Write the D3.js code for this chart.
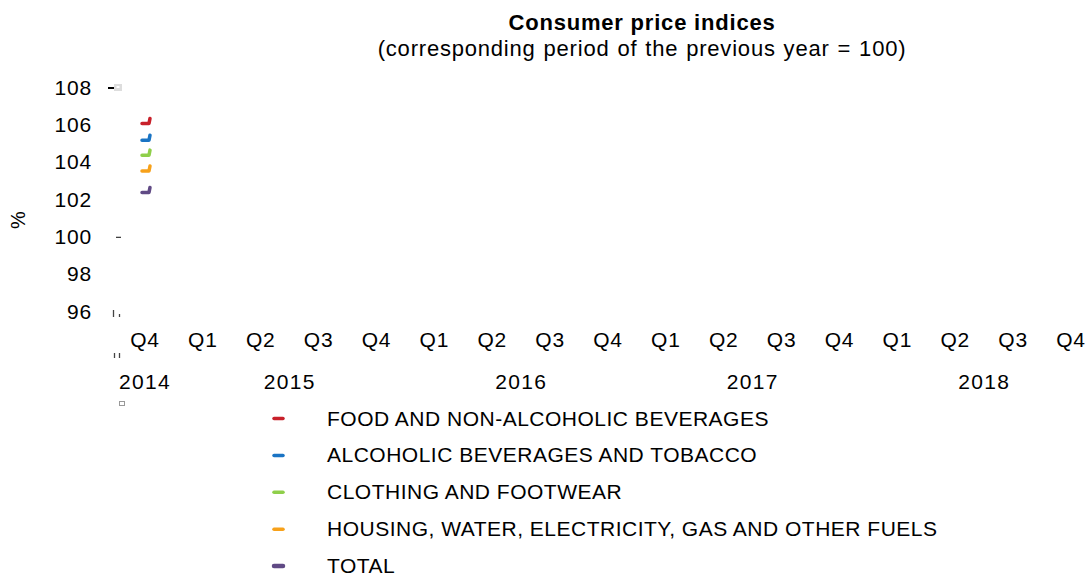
<!DOCTYPE html>
<html><head><meta charset="utf-8">
<script src="https://cdn.jsdelivr.net/npm/d3@7"></script>
<style>body{margin:0;background:#fff}svg{display:block;font-family:"Liberation Sans",Arial,sans-serif}</style>
</head><body><svg id="c" width="1089" height="576"></svg>
<script>
const quarters = ["Q4","Q1","Q2","Q3","Q4","Q1","Q2","Q3","Q4","Q1","Q2","Q3","Q4","Q1","Q2","Q3","Q4"];
const years = [{label:"2014", from:0, to:0},{label:"2015", from:1, to:4},{label:"2016", from:5, to:8},{label:"2017", from:9, to:12},{label:"2018", from:13, to:16}];
const yTicks = [96,98,100,102,104,106,108];
const seriesNames = ["FOOD AND NON-ALCOHOLIC BEVERAGES","ALCOHOLIC BEVERAGES AND TOBACCO","CLOTHING AND FOOTWEAR","HOUSING, WATER, ELECTRICITY, GAS AND OTHER FUELS","TOTAL"];
const seriesColors = ["#c8202a","#1a74c4","#8fcf4a","#f7a11a","#604a85"];
// only the first period (Q4 2014) is visible in the reference
const firstValues = [106.05, 105.15, 104.35, 103.5, 102.35];

const svg = d3.select("#c");
const x = d3.scalePoint().domain(d3.range(quarters.length)).range([145, 1071]);
const y = d3.scaleLinear().domain([96,108]).range([311, 87]);

svg.append("text").attr("x",642).attr("y",30).attr("text-anchor","middle")
  .attr("font-weight","bold").attr("font-size",22).attr("letter-spacing",0.8).text("Consumer price indices");
svg.append("text").attr("x",642).attr("y",56).attr("text-anchor","middle")
  .attr("font-size",22).attr("letter-spacing",0.8).attr("word-spacing",1).text("(corresponding period of the previous year = 100)");

svg.append("text").attr("transform","translate(25,220) rotate(-90)").attr("text-anchor","middle")
  .attr("font-size",20).text("%");

// y tick labels
svg.selectAll(".yl").data(yTicks).join("text").attr("class","yl")
  .attr("x",92).attr("y",d=>y(d)+7.5).attr("text-anchor","end").attr("font-size",21).attr("letter-spacing",0.8).text(d=>d);

// small axis remnants
svg.append("line").attr("x1",108).attr("x2",114).attr("y1",y(108)+1).attr("y2",y(108)+1).attr("stroke","#000").attr("stroke-width",2);
svg.append("rect").attr("x",114).attr("y",y(108)-3).attr("width",8).attr("height",7).attr("fill","#ddd");
svg.append("rect").attr("x",116.5).attr("y",y(108)-1).attr("width",3).attr("height",2).attr("fill","#fff");
svg.append("line").attr("x1",116).attr("x2",121).attr("y1",y(100)+1).attr("y2",y(100)+1).attr("stroke","#333").attr("stroke-width",1.2);
svg.append("line").attr("x1",113.5).attr("x2",113.5).attr("y1",y(96)-1).attr("y2",y(96)+6).attr("stroke","#444").attr("stroke-width",1.3);
svg.append("line").attr("x1",119.5).attr("x2",119.5).attr("y1",y(96)+3).attr("y2",y(96)+6).attr("stroke","#444").attr("stroke-width",1.3);
svg.append("line").attr("x1",114.5).attr("x2",114.5).attr("y1",353).attr("y2",358).attr("stroke","#444").attr("stroke-width",1.3);
svg.append("line").attr("x1",119.5).attr("x2",119.5).attr("y1",353).attr("y2",358).attr("stroke","#444").attr("stroke-width",1.3);
svg.append("rect").attr("x",119.5).attr("y",401.5).attr("width",5).attr("height",4).attr("fill","none").attr("stroke","#999").attr("stroke-width",1);

// x labels
svg.selectAll(".xl").data(quarters).join("text").attr("class","xl")
  .attr("x",(d,i)=>x(i)).attr("y",347).attr("text-anchor","middle").attr("font-size",21).attr("letter-spacing",0.8).text(d=>d);
svg.selectAll(".yr").data(years).join("text").attr("class","yr")
  .attr("x",d=>(x(d.from)+x(d.to))/2).attr("y",389).attr("text-anchor","middle").attr("font-size",21).attr("letter-spacing",1.3).text(d=>d.label);

// series stubs (start of each line at Q4 2014)
const stub = d3.line().curve(d3.curveLinear);
svg.selectAll(".s").data(firstValues).join("path").attr("class","s")
  .attr("transform",d=>`translate(${x(0)},${y(d)})`)
  .attr("d",stub([[-3,0],[4,0],[5,-5]]))
  .attr("fill","none").attr("stroke",(d,i)=>seriesColors[i]).attr("stroke-width",3.5)
  .attr("stroke-linecap","round").attr("stroke-linejoin","round");

// legend
const lg = svg.selectAll(".lg").data(seriesNames).join("g").attr("class","lg")
  .attr("transform",(d,i)=>`translate(0,${418.5+i*36.9})`);
lg.append("line").attr("x1",274).attr("x2",283).attr("y1",0).attr("y2",0)
  .attr("stroke",(d,i)=>seriesColors[i]).attr("stroke-width",(d,i)=>i===4?4.5:3.5).attr("stroke-linecap","round");
lg.append("text").attr("x",327).attr("y",7).attr("font-size",21).attr("letter-spacing",0.5).text(d=>d);
</script></body></html>
